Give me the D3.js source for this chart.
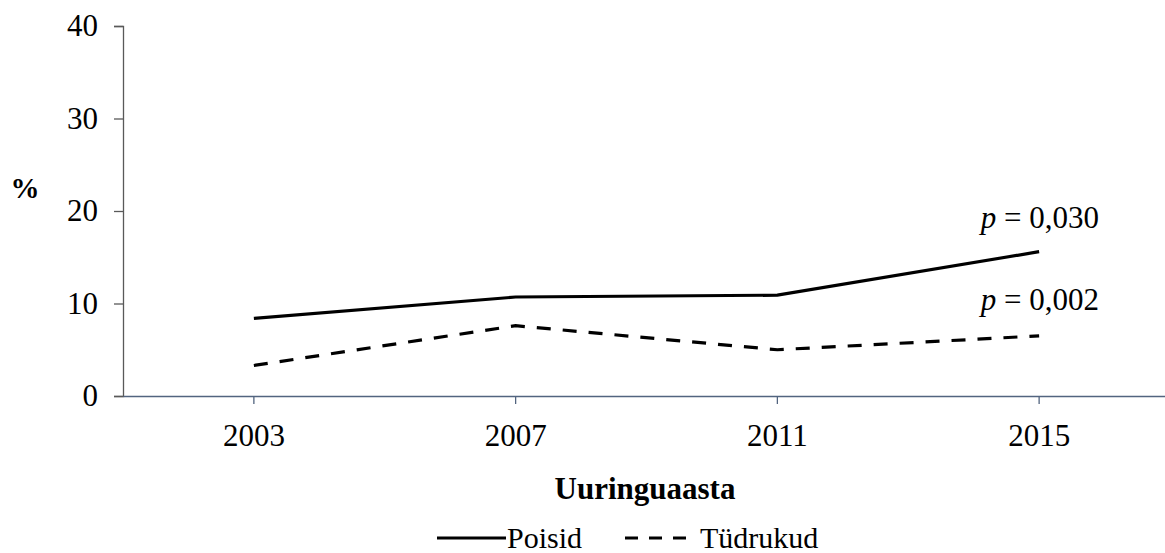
<!DOCTYPE html>
<html>
<head>
<meta charset="utf-8">
<script src="https://cdn.jsdelivr.net/npm/d3@7"></script>
<style>
  body { margin: 0; background: #fff; }
  text { font-family: "Liberation Serif", "Times New Roman", serif; }
</style>
</head>
<body>
<div id="chart"></div>
<script>
// data
var years = ["2003", "2007", "2011", "2015"];
var poisid = [8.4, 10.7, 10.9, 15.6];
var tydrukud = [3.3, 7.6, 5.0, 6.5];
var yTicks = [0, 10, 20, 30, 40];
var pLabels = ["0,030", "0,002"];

var svgWidth = 1165;
var svgHeight = 553;
var fontSize = "31px";

var svg = d3.select("#chart")
  .append("svg")
  .attr("width", svgWidth)
  .attr("height", svgHeight);

var x = d3.scaleBand()
  .domain(years)
  .range([123, 1170]);

var y = d3.scaleLinear()
  .domain([0, 40])
  .range([396, 26]);

var cx = d => x(d) + x.bandwidth() / 2;

// y axis
var leftAxis = d3.axisLeft(y).tickValues(yTicks).tickSize(9).tickPadding(16);
var gy = svg.append("g")
  .attr("transform", "translate(123,0)")
  .call(leftAxis);
gy.select(".domain").attr("stroke", "#595959").attr("stroke-width", 1.3);
gy.selectAll(".tick line").attr("stroke", "#595959").attr("stroke-width", 1.3);
gy.selectAll(".tick text")
  .attr("font-size", fontSize)
  .attr("fill", "#000")
  .style("font-family", "'Liberation Serif', serif");

// x axis
var bottomAxis = d3.axisBottom(x).tickSize(8).tickSizeOuter(0).tickPadding(20);
var gx = svg.append("g")
  .attr("transform", "translate(0,396)")
  .call(bottomAxis);
gx.select(".domain").attr("stroke", "#52647f").attr("stroke-width", 1.6);
gx.selectAll(".tick line").attr("stroke", "#52647f").attr("stroke-width", 1.3);
gx.selectAll(".tick text")
  .attr("font-size", fontSize)
  .attr("fill", "#000")
  .style("font-family", "'Liberation Serif', serif");

// lines
var line = d3.line()
  .x((d, i) => cx(years[i]))
  .y(d => y(d));

svg.append("path")
  .datum(poisid)
  .attr("d", line)
  .attr("fill", "none")
  .attr("stroke", "#000")
  .attr("stroke-width", 3.2);

svg.append("path")
  .datum(tydrukud)
  .attr("d", line)
  .attr("fill", "none")
  .attr("stroke", "#000")
  .attr("stroke-width", 3.2)
  .attr("stroke-dasharray", "14,12");

// p-value labels
var pSeries = [poisid, tydrukud];
pSeries.forEach(function(s, i) {
  var t = svg.append("text")
    .attr("x", 1099)
    .attr("y", y(s[s.length - 1]) - (i == 0 ? 24 : 26))
    .attr("text-anchor", "end")
    .attr("font-size", fontSize)
    .attr("fill", "#000");
  t.append("tspan").attr("font-style", "italic").text("p");
  t.append("tspan").text(" = " + pLabels[i]);
});

// axis titles
svg.append("text")
  .attr("x", 25)
  .attr("y", 198)
  .attr("text-anchor", "middle")
  .attr("font-size", "29px")
  .attr("font-weight", "bold")
  .text("%");

svg.append("text")
  .attr("x", 645)
  .attr("y", 499)
  .attr("text-anchor", "middle")
  .attr("font-size", fontSize)
  .attr("font-weight", "bold")
  .text("Uuringuaasta");

// legend
var legend = svg.append("g");
legend.append("line")
  .attr("x1", 437).attr("x2", 506)
  .attr("y1", 538).attr("y2", 538)
  .attr("stroke", "#000").attr("stroke-width", 3.2);
legend.append("text")
  .attr("x", 507).attr("y", 548)
  .attr("font-size", "30px")
  .text("Poisid");
legend.append("line")
  .attr("x1", 625).attr("x2", 697)
  .attr("y1", 538).attr("y2", 538)
  .attr("stroke", "#000").attr("stroke-width", 3.2)
  .attr("stroke-dasharray", "13,11");
legend.append("text")
  .attr("x", 700).attr("y", 548)
  .attr("font-size", "30px")
  .text("Tüdrukud");
</script>
</body>
</html>
